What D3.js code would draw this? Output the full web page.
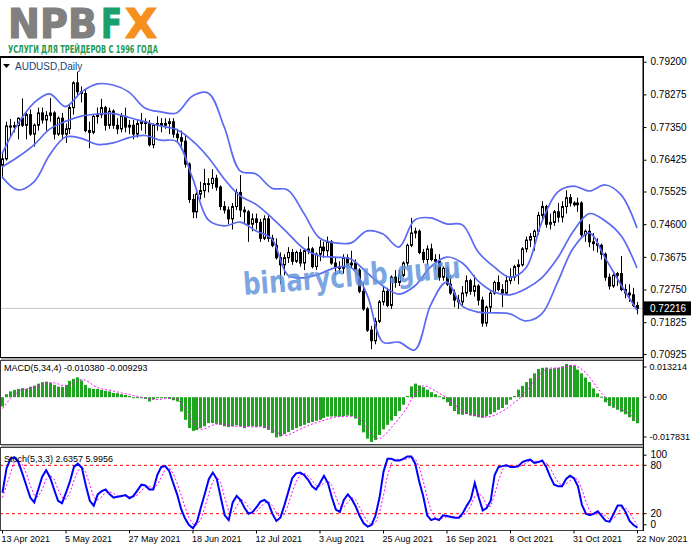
<!DOCTYPE html>
<html><head><meta charset="utf-8">
<script src="https://cdn.jsdelivr.net/npm/d3@7"></script>
<style>body{margin:0;background:#fff}svg{display:block}</style>
</head><body><svg id="c" width="691" height="549"></svg>
<script>
// ---------- DATA ----------
const dateLabels = ["13 Apr 2021","5 May 2021","27 May 2021","18 Jun 2021","12 Jul 2021","3 Aug 2021","25 Aug 2021","16 Sep 2021","8 Oct 2021","31 Oct 2021","22 Nov 2021"];
const dateIndex = [0,16,32,48,64,80,96,112,128,144,160];
const priceTicks = [0.79200,0.78275,0.77350,0.76425,0.75525,0.74600,0.73675,0.72750,0.71825,0.70925];
const lastPrice = 0.72216;

const open = [.7627,.7645,.7738,.7735,.7739,.7760,.7740,.7770,.7715,.7740,
.7775,.7755,.7768,.7775,.7715,.7760,.7715,.7730,.7790,.7860,
.7835,.7830,.7725,.7720,.7765,.7770,.7790,.7740,.7780,.7740,
.7730,.7765,.7735,.7740,.7715,.7745,.7750,.7745,.7685,.7740,
.7745,.7740,.7745,.7750,.7715,.7705,.7695,.7630,.7530,.7495,
.7545,.7555,.7575,.7575,.7590,.7565,.7510,.7500,.7475,.7510,
.7550,.7500,.7495,.7460,.7475,.7465,.7420,.7475,.7420,.7400,
.7365,.7345,.7365,.7380,.7355,.7380,.7350,.7385,.7390,.7340,
.7375,.7395,.7385,.7410,.7350,.7340,.7335,.7365,.7345,.7350,
.7330,.7270,.7220,.7160,.7130,.7185,.7240,.7270,.7230,.7310,
.7295,.7315,.7350,.7400,.7435,.7440,.7380,.7360,.7390,.7360,
.7355,.7310,.7335,.7290,.7265,.7245,.7240,.7265,.7300,.7270,
.7285,.7245,.7180,.7225,.7265,.7295,.7275,.7265,.7300,.7310,
.7340,.7345,.7390,.7415,.7425,.7440,.7485,.7510,.7460,.7465,
.7495,.7480,.7510,.7535,.7520,.7515,.7520,.7430,.7440,.7410,
.7405,.7400,.7375,.7310,.7285,.7315,.7320,.7275,.7265,.7260,
.7230];
const high = [.7660,.7750,.7758,.7750,.7762,.7816,.7775,.7785,.7745,.7790,
.7790,.7780,.7817,.7780,.7765,.7775,.7745,.7800,.7865,.7891,
.7850,.7840,.7750,.7770,.7790,.7815,.7795,.7790,.7785,.7760,
.7775,.7790,.7755,.7755,.7755,.7775,.7760,.7755,.7745,.7765,
.7760,.7760,.7760,.7760,.7730,.7725,.7715,.7635,.7545,.7560,
.7580,.7617,.7590,.7616,.7600,.7570,.7525,.7510,.7520,.7560,
.7599,.7510,.7500,.7490,.7490,.7475,.7485,.7485,.7430,.7420,
.7380,.7375,.7395,.7390,.7385,.7390,.7390,.7425,.7395,.7380,
.7415,.7410,.7425,.7415,.7365,.7355,.7375,.7375,.7385,.7360,
.7335,.7295,.7225,.7172,.7195,.7245,.7285,.7280,.7315,.7330,
.7330,.7355,.7405,.7478,.7450,.7445,.7390,.7400,.7405,.7375,
.7375,.7340,.7340,.7315,.7275,.7260,.7285,.7315,.7305,.7315,
.7290,.7255,.7230,.7270,.7300,.7315,.7290,.7315,.7335,.7345,
.7360,.7395,.7425,.7435,.7445,.7495,.7525,.7515,.7490,.7500,
.7520,.7525,.7556,.7545,.7525,.7535,.7525,.7445,.7460,.7435,
.7420,.7405,.7380,.7320,.7320,.7325,.7370,.7290,.7290,.7280,
.7240];
const low = [.7590,.7640,.7705,.7720,.7700,.7735,.7700,.7710,.7680,.7725,
.7745,.7725,.7750,.7700,.7710,.7700,.7690,.7715,.7770,.7820,
.7805,.7720,.7675,.7715,.7745,.7760,.7725,.7730,.7730,.7715,
.7720,.7720,.7715,.7700,.7705,.7725,.7715,.7680,.7675,.7725,
.7720,.7730,.7715,.7705,.7690,.7680,.7620,.7520,.7477,.7477,
.7530,.7535,.7550,.7560,.7555,.7500,.7490,.7460,.7445,.7500,
.7480,.7460,.7410,.7440,.7445,.7410,.7415,.7410,.7395,.7360,
.7290,.7315,.7350,.7345,.7350,.7340,.7330,.7375,.7335,.7330,
.7355,.7365,.7370,.7345,.7315,.7320,.7320,.7335,.7335,.7320,
.7265,.7215,.7155,.7106,.7120,.7180,.7230,.7225,.7220,.7280,
.7285,.7310,.7340,.7395,.7420,.7375,.7350,.7345,.7355,.7330,
.7300,.7300,.7285,.7260,.7225,.7220,.7230,.7255,.7260,.7255,
.7230,.7170,.7170,.7210,.7260,.7270,.7225,.7260,.7290,.7300,
.7290,.7340,.7380,.7395,.7385,.7430,.7470,.7450,.7445,.7455,
.7465,.7465,.7490,.7510,.7510,.7495,.7420,.7410,.7395,.7385,
.7380,.7360,.7300,.7275,.7280,.7285,.7270,.7250,.7240,.7225,
.7205];
const close = [.7645,.7738,.7735,.7739,.7760,.7740,.7770,.7715,.7740,.7775,
.7755,.7768,.7775,.7715,.7760,.7715,.7730,.7790,.7860,.7835,
.7830,.7725,.7720,.7765,.7770,.7790,.7740,.7780,.7740,.7730,
.7765,.7735,.7740,.7715,.7745,.7750,.7745,.7685,.7740,.7745,
.7740,.7745,.7750,.7715,.7705,.7695,.7630,.7530,.7495,.7545,
.7555,.7575,.7575,.7590,.7565,.7510,.7500,.7475,.7510,.7550,
.7500,.7495,.7460,.7475,.7465,.7420,.7475,.7420,.7400,.7365,
.7345,.7365,.7380,.7355,.7380,.7350,.7385,.7390,.7340,.7375,
.7395,.7385,.7410,.7350,.7340,.7335,.7365,.7345,.7350,.7330,
.7270,.7220,.7160,.7130,.7185,.7240,.7270,.7230,.7310,.7295,
.7315,.7350,.7400,.7435,.7440,.7380,.7360,.7390,.7360,.7355,
.7310,.7335,.7290,.7265,.7245,.7240,.7265,.7300,.7270,.7285,
.7245,.7180,.7225,.7265,.7295,.7275,.7265,.7300,.7310,.7340,
.7345,.7390,.7415,.7425,.7440,.7485,.7510,.7460,.7465,.7495,
.7480,.7510,.7535,.7520,.7515,.7520,.7430,.7440,.7410,.7405,
.7400,.7375,.7310,.7285,.7315,.7320,.7275,.7265,.7260,.7230,
.72216];

const bandIndex = [0,4,8,12,16,20,24,28,32,36,40,44,48,52,56,60,64,68,72,76,80,84,88,92,96,100,104,108,112,116,120,124,128,132,136,140,144,148,152,156,160];
const bbUpper = [0.7659,0.7744,0.7803,0.7829,0.7793,0.7834,0.7857,0.7854,0.7834,0.7789,0.7778,0.7775,0.7823,0.7831,0.7735,0.7611,0.7602,0.7562,0.7557,0.7492,0.7421,0.7407,0.7407,0.7441,0.7432,0.7395,0.7472,0.7478,0.7461,0.7458,0.7381,0.7339,0.7310,0.7336,0.7466,0.7551,0.7568,0.7554,0.7571,0.7543,0.7449];
const bbMiddle = [0.7622,0.7650,0.7684,0.7729,0.7751,0.7766,0.7772,0.7773,0.7762,0.7750,0.7738,0.7728,0.7696,0.7649,0.7588,0.7540,0.7516,0.7478,0.7435,0.7391,0.7370,0.7367,0.7361,0.7322,0.7285,0.7262,0.7285,0.7339,0.7367,0.7350,0.7299,0.7268,0.7260,0.7277,0.7308,0.7364,0.7441,0.7490,0.7469,0.7427,0.7336];
const bbLower = [0.7594,0.7557,0.7579,0.7656,0.7707,0.7703,0.7686,0.7690,0.7705,0.7711,0.7698,0.7694,0.7591,0.7472,0.7455,0.7466,0.7441,0.7418,0.7316,0.7308,0.7319,0.7337,0.7337,0.7260,0.7126,0.7126,0.7104,0.7231,0.7296,0.7228,0.7211,0.7209,0.7206,0.7186,0.7206,0.7296,0.7393,0.7435,0.7364,0.7288,0.7217];

const macdHist = [-0.0037,0.0012,0.0023,0.0029,0.0033,0.0036,0.0033,0.0042,0.0046,0.0054,
0.0060,0.0062,0.0057,0.0049,0.0042,0.0041,0.0049,0.0065,0.0073,0.0079,
0.0067,0.0049,0.0036,0.0033,0.0033,0.0029,0.0025,0.0023,0.0017,0.0016,
0.0012,0.0009,0.0005,-0.0001,-0.0001,-0.0001,-0.0007,-0.0017,-0.0009,-0.0004,
-0.0001,-0.0001,-0.0007,-0.0012,-0.0017,-0.0057,-0.0090,-0.0123,-0.0134,-0.0131,
-0.0123,-0.0116,-0.0103,-0.0103,-0.0106,-0.0110,-0.0116,-0.0119,-0.0116,-0.0112,
-0.0116,-0.0123,-0.0116,-0.0116,-0.0118,-0.0116,-0.0123,-0.0130,-0.0143,-0.0160,
-0.0156,-0.0147,-0.0139,-0.0130,-0.0123,-0.0116,-0.0110,-0.0103,-0.0099,-0.0094,
-0.0090,-0.0083,-0.0077,-0.0077,-0.0077,-0.0077,-0.0075,-0.0073,-0.0076,-0.0085,
-0.0112,-0.0140,-0.0165,-0.017831,-0.0170,-0.0150,-0.0128,-0.0110,-0.0093,-0.0075,
-0.0055,-0.0030,0.0005,0.0043,0.0054,0.0047,0.0040,0.0030,0.0020,0.0012,
0.0004,-0.0008,-0.0020,-0.0035,-0.0055,-0.0068,-0.0070,-0.0067,-0.0073,-0.0076,
-0.0080,-0.0082,-0.0076,-0.0068,-0.0060,-0.0050,-0.0043,-0.0030,-0.0010,0.0005,
0.0030,0.0045,0.0060,0.0075,0.0095,0.0112,0.0117,0.0118,0.0113,0.0115,
0.0117,0.0123,0.013214,0.0128,0.0125,0.0110,0.0095,0.0078,0.0060,0.0035,
0.0015,0.0002,-0.0020,-0.0035,-0.0042,-0.0050,-0.0058,-0.0068,-0.0080,-0.0095,
-0.010380];
const macdSignal = [-0.0045,-0.0025,-0.0005,0.0007,0.0024,0.0030,0.0033,0.0036,0.0039,0.0044,
0.0051,0.0056,0.0058,0.0057,0.0053,0.0047,0.0045,0.0049,0.0057,0.0067,
0.0071,0.0067,0.0058,0.0046,0.0038,0.0033,0.0030,0.0028,0.0024,0.0021,
0.0017,0.0014,0.0011,0.0006,0.0003,0.0000,-0.0003,-0.0007,-0.0008,-0.0009,
-0.0008,-0.0004,-0.0003,-0.0005,-0.0009,-0.0023,-0.0044,-0.0072,-0.0101,-0.0120,
-0.0128,-0.0126,-0.0118,-0.0111,-0.0107,-0.0106,-0.0109,-0.0113,-0.0115,-0.0116,
-0.0116,-0.0117,-0.0117,-0.0119,-0.0118,-0.0117,-0.0118,-0.0122,-0.0128,-0.0139,
-0.0147,-0.0152,-0.0151,-0.0143,-0.0135,-0.0127,-0.0120,-0.0113,-0.0107,-0.0102,
-0.0097,-0.0092,-0.0086,-0.0082,-0.0079,-0.0077,-0.0077,-0.0076,-0.0075,-0.0077,
-0.0087,-0.0103,-0.0126,-0.0149,-0.0163,-0.0166,-0.0155,-0.0140,-0.0120,-0.0102,
-0.0083,-0.0063,-0.0039,-0.0010,0.0018,0.0037,0.0046,0.0043,0.0034,0.0026,
0.0017,0.0007,-0.0003,-0.0015,-0.0030,-0.0045,-0.0057,-0.0065,-0.0070,-0.0072,
-0.0074,-0.0078,-0.0079,-0.0077,-0.0072,-0.0064,-0.0055,-0.0046,-0.0033,-0.0020,
-0.0010,0.0008,0.0025,0.0045,0.0064,0.0082,0.0100,0.0111,0.0116,0.0116,
0.0116,0.0117,0.0122,0.0125,0.0127,0.0121,0.0111,0.0096,0.0078,0.0057,
0.0035,0.0015,-0.0002,-0.0017,-0.0031,-0.0040,-0.0049,-0.0057,-0.0066,-0.0078,
-0.009293];

const stochMain = [46,76,88,90,84,70,55,40,34,50,
66,74,65,50,36,33,46,60,78,82,
77,55,36,30,44,48,50,44,40,41,
42,43,39,42,49,56,55,50,50,68,
78,79,73,58,44,26,14,6,2,10,
28,45,63,71,63,40,18,12,34,42,
37,27,20,22,28,35,37,33,20,11,
15,30,47,64,70,71,68,62,54,50,
58,67,58,40,25,22,37,44,38,29,
17,8,4,6,18,40,72,88,88,86,
86,88,91,91,82,60,42,18,12,14,
12,18,17,16,15,15,21,30,38,58,
40,24,27,36,68,78,79,80,78,78,
79,84,86,87,83,84,86,78,66,56,
54,54,63,67,64,54,31,20,18,20,
23,17,11,10,20,30,30,22,11,6,
2.6357];
const stochSignal = [40,55,70,85,87,81,70,55,43,41,
50,63,68,63,50,40,38,46,61,73,
79,71,56,40,37,41,47,47,45,42,
41,42,41,41,43,49,53,54,52,56,
65,75,77,70,58,43,28,15,7,6,
13,28,45,60,66,58,40,23,21,29,
38,35,28,23,23,28,33,35,30,21,
15,19,31,47,60,68,70,67,61,55,
54,58,61,55,41,29,28,34,40,37,
28,18,10,6,9,21,43,67,83,87,
87,87,88,90,88,78,61,40,24,15,
13,15,16,17,16,15,17,22,30,42,
45,41,30,29,44,61,75,79,79,79,
78,80,83,86,85,85,84,83,77,67,
59,55,57,61,65,62,50,35,23,19,
20,20,17,13,14,20,27,27,21,13,
5.9956];

// ---------- LAYOUT ----------
const W = 691, H = 549;
const R = 643;
const main = {top:57, bottom:357};
const mp = {top:360, bottom:444};
const sp = {top:447, bottom:530};

const svg = d3.select("#c");
const AX = "Liberation Sans, Arial, sans-serif";

const x = d3.scaleLinear().domain([0,160]).range([2,637]);
const yP = d3.scaleLinear().domain([0.70925,0.79200]).range([354,61.7]);
const yM = d3.scaleLinear().domain([-0.017831,0.013214]).range([442,364]);
const yS = d3.scaleLinear().domain([0,100]).range([529.8,449.2]);

svg.append("rect").attr("width",W).attr("height",H).attr("fill","#fff");

// ---------- LOGO ----------
function logoPart(txt, x0, len, col){
  const t = svg.append("text").attr("x",0).attr("y",0)
    .attr("font-family","DejaVu Sans, sans-serif").attr("font-weight","bold")
    .attr("font-size",40)
    .attr("fill",col).attr("stroke",col).attr("stroke-width",1.2).text(txt);
  const w = t.node().getComputedTextLength() || len;
  t.attr("transform",`translate(${x0},38) scale(${len/w},1)`);
}
logoPart("NPB", 8, 89, "#808080");
logoPart("F", 101, 21, "#17a06c");
logoPart("X", 125, 32, "#f5901e");
svg.append("text").attr("x",8).attr("y",53)
  .attr("font-family","DejaVu Sans, sans-serif").attr("font-weight","bold")
  .attr("font-size",10.5).attr("fill","#1f9a55")
  .attr("textLength",150).attr("lengthAdjust","spacingAndGlyphs")
  .text("УСЛУГИ ДЛЯ ТРЕЙДЕРОВ С 1996 ГОДА");

// ---------- CLIPS ----------
const defs = svg.append("defs");
function clip(id, p){ defs.append("clipPath").attr("id",id).append("rect")
  .attr("x",1).attr("y",p.top+1).attr("width",R-1).attr("height",p.bottom-p.top-1); }
clip("cm", main); clip("cmacd", mp); clip("cs", sp);

// ---------- MAIN PANEL ----------
const gMain = svg.append("g").attr("clip-path","url(#cm)");
gMain.append("line").attr("x1",0).attr("x2",R).attr("y1",yP(lastPrice)).attr("y2",yP(lastPrice))
  .attr("stroke","#c8c8c8").attr("stroke-width",1);

// watermark
svg.append("text").attr("transform","translate(244,295) rotate(-4.5)")
  .attr("font-family","DejaVu Sans, sans-serif").attr("font-weight","bold")
  .attr("font-size",31).attr("fill","#6596dc").attr("fill-opacity",0.85)
  .attr("textLength",218).attr("lengthAdjust","spacingAndGlyphs")
  .text("binaryclub.guru");

// candles
const idx = d3.range(close.length);
const gC = gMain.append("g");
gC.selectAll("line.w").data(idx).join("line").attr("class","w")
  .attr("x1",i=>Math.round(x(i))+0.5).attr("x2",i=>Math.round(x(i))+0.5)
  .attr("y1",i=>yP(high[i])).attr("y2",i=>yP(low[i]))
  .attr("stroke","#000").attr("stroke-width",1);
gC.selectAll("rect.b").data(idx).join("rect").attr("class","b")
  .attr("x",i=>Math.round(x(i))-0.5)
  .attr("width",2)
  .attr("y",i=>yP(Math.max(open[i],close[i])))
  .attr("height",i=>Math.max(1,Math.abs(yP(open[i])-yP(close[i]))))
  .attr("fill",i=>close[i]>=open[i]?"#fff":"#000")
  .attr("stroke","#000").attr("stroke-width",1);

// bollinger
const bandLine = d3.line().x((d,k)=>x(bandIndex[k])).y(d=>yP(d)).curve(d3.curveCatmullRom);
[bbUpper,bbMiddle,bbLower].forEach(b=>{
  gMain.append("path").attr("d",bandLine(b)).attr("fill","none")
    .attr("stroke","#5a6af2").attr("stroke-width",1.7);
});

// title
svg.append("path").attr("d","M3,64 L10,64 L6.5,68 Z").attr("fill","#000");
svg.append("text").attr("x",15).attr("y",70).attr("font-family",AX).attr("font-size",10)
  .attr("fill","#1c3e78").text("AUDUSD,Daily");

// ---------- MACD PANEL ----------
const gM = svg.append("g").attr("clip-path","url(#cmacd)");
gM.selectAll("rect").data(idx).join("rect")
  .attr("x",i=>Math.round(x(i))-1).attr("width",3)
  .attr("y",i=>Math.min(yM(0),yM(macdHist[i])))
  .attr("height",i=>Math.max(1,Math.abs(yM(macdHist[i])-yM(0))))
  .attr("fill","#1ea41e");
gM.append("path").attr("d",d3.line().x((d,i)=>x(i)+0.5).y(d=>yM(d))(macdSignal))
  .attr("fill","none").attr("stroke","#ff00ff").attr("stroke-width",1).attr("stroke-dasharray","2,2");
svg.append("text").attr("x",4).attr("y",371).attr("font-family",AX).attr("font-size",9)
  .attr("fill","#000").text("MACD(5,34,4) -0.010380 -0.009293");

// ---------- STOCH PANEL ----------
const gS = svg.append("g").attr("clip-path","url(#cs)");
[80,20].forEach(v=>gS.append("line").attr("x1",0).attr("x2",R).attr("y1",yS(v)).attr("y2",yS(v))
  .attr("stroke","#ff0000").attr("stroke-width",1).attr("stroke-dasharray","3,3"));
gS.append("path").attr("d",d3.line().x((d,i)=>x(i)+0.5).y(d=>yS(d))(stochSignal))
  .attr("fill","none").attr("stroke","#ff00ff").attr("stroke-width",1).attr("stroke-dasharray","2,2");
gS.append("path").attr("d",d3.line().x((d,i)=>x(i)+0.5).y(d=>yS(d))(stochMain))
  .attr("fill","none").attr("stroke","#0000ff").attr("stroke-width",2);
svg.append("text").attr("x",4).attr("y",462).attr("font-family",AX).attr("font-size",9)
  .attr("fill","#000").text("Stoch(5,3,3) 2.6357 5.9956");

// ---------- FRAMES ----------
const fr = svg.append("g").attr("fill","none");
fr.append("rect").attr("x",0.5).attr("y",main.top+0.5).attr("width",R-0.5).attr("height",main.bottom-main.top).attr("stroke","#000");
fr.append("line").attr("x1",0).attr("x2",R).attr("y1",main.top).attr("y2",main.top).attr("stroke","#000").attr("stroke-width",2);
fr.append("rect").attr("x",0.5).attr("y",mp.top+0.5).attr("width",R-0.5).attr("height",mp.bottom-mp.top).attr("stroke","#404040");
fr.append("rect").attr("x",0.5).attr("y",sp.top+0.5).attr("width",R-0.5).attr("height",sp.bottom-sp.top).attr("stroke","#404040");
svg.append("rect").attr("x",1).attr("y",main.bottom+1).attr("width",R-1).attr("height",2).attr("fill","#b0b0b0");
svg.append("rect").attr("x",1).attr("y",mp.bottom+1).attr("width",R-1).attr("height",2).attr("fill","#b0b0b0");

// ---------- AXES ----------
function styleAxis(g, fs){
  g.select(".domain").remove();
  g.selectAll("line").attr("stroke","#000");
  g.selectAll("text").attr("font-family",AX).attr("font-size",fs).attr("fill","#000");
}
const gPa = svg.append("g").attr("transform",`translate(${R+0.5},0)`)
  .call(d3.axisRight(yP).tickValues(priceTicks).tickFormat(d3.format(".5f")).tickSize(3).tickPadding(4));
styleAxis(gPa, 10);

const macdTicks = [0.013214,0,-0.017831];
const macdFmt = ["0.013214","0.00","-0.017831"];
const gMa = svg.append("g").attr("transform",`translate(${R+0.5},0)`)
  .call(d3.axisRight(yM).tickValues(macdTicks).tickFormat((d,k)=>macdFmt[k]).tickSize(3).tickPadding(3));
styleAxis(gMa, 9);
gMa.selectAll(".tick").attr("transform",(d,k)=>`translate(0,${yM(d)+[3,0,-5][k]})`);

const stochTicks = [100,80,20,0];
const gSa = svg.append("g").attr("transform",`translate(${R+0.5},0)`)
  .call(d3.axisRight(yS).tickValues(stochTicks).tickSize(3).tickPadding(4));
styleAxis(gSa, 10);
gSa.selectAll(".tick").attr("transform",(d,k)=>`translate(0,${yS(d)+[6,0,0,-5][k]})`);

// right border
svg.append("line").attr("x1",R+0.5).attr("x2",R+0.5).attr("y1",main.top-1).attr("y2",sp.bottom+1).attr("stroke","#000");

// last price box
svg.append("rect").attr("x",R+1).attr("y",yP(lastPrice)-7).attr("width",W-R-1).attr("height",14).attr("fill","#000");
svg.append("text").attr("x",R+7).attr("y",yP(lastPrice)+3.5).attr("font-family",AX).attr("font-size",10)
  .attr("fill","#fff").text(d3.format(".5f")(lastPrice));

// time axis
const gT = svg.append("g").attr("transform",`translate(0,${sp.bottom+0.5})`)
  .call(d3.axisBottom(x).tickValues(dateIndex).tickFormat((d,k)=>dateLabels[k]).tickSize(3).tickPadding(2));
gT.select(".domain").remove();
gT.selectAll("line").attr("stroke","#000");
gT.selectAll("text").attr("font-family",AX).attr("font-size",9).attr("fill","#000")
  .attr("text-anchor","start").attr("dx",-1);
</script></body></html>
